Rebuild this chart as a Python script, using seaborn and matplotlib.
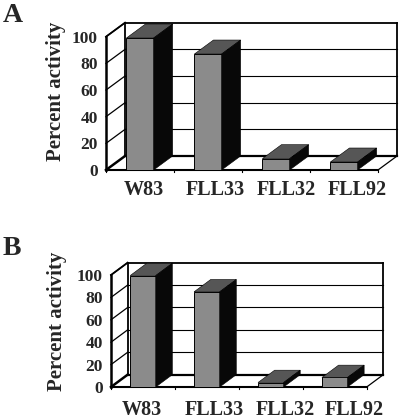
import matplotlib
matplotlib.use("Agg")
import matplotlib.pyplot as plt
import seaborn as sns
import pandas as pd

# values
strains = ["W83", "FLL33", "FLL32", "FLL92"]
activity_a = [99, 87, 8.5, 6]
activity_b = [99.5, 85, 4, 8.5]
y_ticks = [0, 20, 40, 60, 80, 100]

FRONT = "#8b8b8b"
TOP = "#565656"
SIDE = "#080808"
W, H = 400, 419

sns.set_style("white")
plt.rcParams["font.family"] = ["Liberation Serif", "DejaVu Serif"]
plt.rcParams["font.weight"] = "bold"
plt.rcParams["axes.labelweight"] = "bold"


def panel(fig, box, values, depth, label_pos, letter, letter_xy, xpad, labelpad, label_y):
    # box = left, right, top, bottom of the front plane in pixels
    left, right, top, bottom = box
    ax = fig.add_axes([left / W, 1 - bottom / H, (right - left) / W, (bottom - top) / H])
    df = pd.DataFrame({"strain": strains, "activity": values})
    sns.barplot(data=df, x="strain", y="activity", color=FRONT, saturation=1,
                width=0.4, edgecolor="black", linewidth=0.7, zorder=3, ax=ax)
    ax.set_xlim(-0.5, 3.5)
    ax.set_ylim(0, 100)
    dx, dy = depth
    ax.patch.set_visible(False)
    for s in ax.spines.values():
        s.set_visible(False)

    # back wall, side wall and floor
    kw = dict(color="black", clip_on=False, zorder=1, solid_capstyle="projecting")
    ax.plot([-0.5 + dx, 3.5 + dx], [100 + dy, 100 + dy], lw=1.3, **kw)
    ax.plot([3.5 + dx, 3.5 + dx], [dy, 100 + dy], lw=1.3, **kw)
    ax.plot([-0.5 + dx, -0.5 + dx], [dy, 100 + dy], lw=1.3, **kw)
    for t in y_ticks:
        ax.plot([-0.5, -0.5 + dx], [t, t + dy], lw=0.9 if t else 1.8, **kw)
        if 0 < t < 100:
            ax.plot([-0.5 + dx, 3.5 + dx], [t + dy, t + dy], lw=0.8, **kw)
    ax.plot([-0.5, -0.5 + dx], [100, 100 + dy], lw=1.3, **kw)
    ax.plot([-0.5 + dx, 3.5 + dx], [dy, dy], lw=1.6, **kw)
    ax.plot([3.5, 3.5 + dx], [0, dy], lw=0.9, **kw)
    ax.plot([-0.5, -0.5], [0, 100], lw=1.8, **kw)
    ax.plot([-0.5, 3.5], [0, 0], lw=1.5, **kw)
    for x in range(5):
        ax.plot([x - 0.5, x - 0.5], [0, -1.5], lw=0.8, **kw)

    # depth faces of every bar, taken from the seaborn patches
    for bar in ax.patches[:len(values)]:
        x0, x1, h = bar.get_x(), bar.get_x() + bar.get_width(), bar.get_height()
        ax.fill([x0, x1, x1 + dx, x0 + dx], [h, h, h + dy, h + dy], color=TOP,
                ec="black", lw=0.4, zorder=3, clip_on=False)
        ax.fill([x1, x1 + dx, x1 + dx, x1], [0, dy, h + dy, h], color=SIDE,
                ec="black", lw=0.4, zorder=3, clip_on=False)

    ax.set_xticks(label_pos, strains)
    ax.set_yticks(y_ticks)
    ax.tick_params(axis="x", length=0, pad=xpad, labelsize=14.5)
    ax.tick_params(axis="y", length=0, pad=6, labelsize=12.5)
    ax.set_xlabel("")
    ax.set_ylabel("Percent activity", fontsize=15, labelpad=labelpad, y=label_y)
    fig.text(letter_xy[0] / W, 1 - letter_xy[1] / H, letter, fontsize=20,
             ha="left", va="baseline")


fig = plt.figure(figsize=(W / 100, H / 100), dpi=100)
panel(fig, (106, 378, 36.7, 170), activity_a, (0.28, 10.5),
      [0.06, 1.11, 2.15, 3.19], "A", (3, 22), 7.5, 4, 0.593)
panel(fig, (111, 366.7, 275, 387), activity_b, (0.26, 11),
      [-0.01, 1.11, 2.22, 3.31], "B", (3, 255), 9, 7, 0.584)
fig.savefig("out.png", dpi=100)
